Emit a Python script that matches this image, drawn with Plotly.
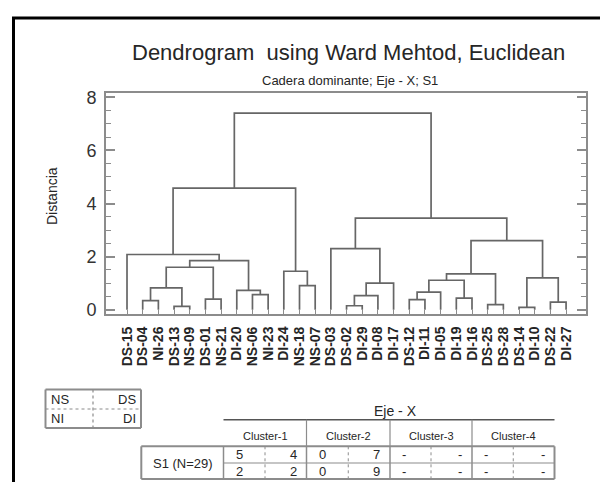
import plotly.graph_objects as go

# ---------------- data ----------------
leaf_labels = ["DS-15", "DS-04", "NI-26", "DS-13", "NS-09", "DS-01", "NS-21", "DI-20",
               "NS-06", "NI-23", "DI-24", "NS-18", "NS-07", "DS-03", "DS-02", "DI-29",
               "DI-08", "DI-17", "DS-12", "DI-11", "DI-05", "DI-19", "DI-16", "DS-25",
               "DS-28", "DS-14", "DI-10", "DS-22", "DI-27"]

merge_names = ["c1", "c2", "c3", "c4", "c5", "c6", "c7", "c8", "c9", "c10", "c11", "c12",
               "c13", "c14", "c15", "c16", "c17", "c18", "c19", "c20", "c21", "c22",
               "c23", "c24", "c25", "c26", "c27", "c28"]
merge_left = ["DS-04", "DS-13", "c1", "DS-01", "c3", "NS-06", "DI-20", "c5", "DS-15",
              "NS-18", "DI-24", "c9", "DS-02", "c13", "c14", "DS-03", "DS-12", "c17",
              "DI-19", "c18", "DS-25", "c20", "DS-14", "DS-22", "c23", "c22", "c16", "c12"]
merge_right = ["NI-26", "NS-09", "c2", "NS-21", "c4", "NI-23", "c6", "c7", "c8",
               "NS-07", "c10", "c11", "DI-29", "DI-08", "DI-17", "c15", "DI-11", "DI-05",
               "DI-16", "c19", "DS-28", "c21", "DI-10", "DI-27", "c24", "c25", "c26", "c27"]
merge_height = [0.34, 0.13, 0.82, 0.40, 1.60, 0.57, 0.73, 1.85, 2.08,
                0.91, 1.45, 4.58, 0.15, 0.53, 1.00, 2.30, 0.38, 0.66,
                0.44, 1.11, 0.19, 1.35, 0.09, 0.29, 1.20, 2.60, 3.45, 7.40]

y_tick_vals = [0, 2, 4, 6, 8]

cluster_names = ["Cluster-1", "Cluster-2", "Cluster-3", "Cluster-4"]
ns_counts = ["5", "0", "-", "-"]
ds_counts = ["4", "7", "-", "-"]
ni_counts = ["2", "0", "-", "-"]
di_counts = ["2", "9", "-", "-"]
row_label = "S1 (N=29)"
table_title = "Eje - X"
legend_cells = [["NS", "DS"], ["NI", "DI"]]

# ---------------- layout constants ----------------
W, H = 608, 482
L, R, T, B = 98, 30, 85, 176
PW, PH = W - L - R, H - T - B

def px(x):
    return (x - L) / PW

def py(y):
    return (H - B - y) / PH

LINE = "#666666"
AX = "#8c8c8c"
TXT = "#262626"
FONT = "Liberation Sans, Arial, sans-serif"

# ---------------- dendrogram lines ----------------
pos = {lab: (i, 0.0) for i, lab in enumerate(leaf_labels)}
xs, ys = [], []
for name, lft, rgt, h in zip(merge_names, merge_left, merge_right, merge_height):
    xl, yl = pos[lft]
    xr, yr = pos[rgt]
    xs += [xl, xl, xr, xr, None]
    ys += [yl, h, h, yr, None]
    pos[name] = ((xl + xr) / 2, h)

fig = go.Figure()
fig.add_trace(go.Scatter(x=xs, y=ys, mode="lines",
                         line=dict(color=LINE, width=1.7),
                         hoverinfo="skip", showlegend=False))

fig.update_layout(
    width=W, height=H,
    margin=dict(l=L, r=R, t=T, b=B, pad=0),
    paper_bgcolor="white", plot_bgcolor="white",
    showlegend=False,
    font=dict(family=FONT, color=TXT),
)

fig.update_xaxes(
    range=[-1.34, 29.27],
    tickmode="array", tickvals=list(range(len(leaf_labels))), ticktext=leaf_labels,
    tickangle=-90, tickfont=dict(size=14, family=FONT, color=TXT, weight="bold"),
    ticks="inside", ticklen=4, tickcolor=AX, tickwidth=1,
    showline=True, linecolor=AX, linewidth=2, mirror=True,
    showgrid=False, zeroline=False, ticklabelstandoff=5,
)
fig.update_yaxes(
    range=[-0.16, 8.16],
    tickmode="array", tickvals=y_tick_vals,
    tickfont=dict(size=18, family=FONT, color="#333333"),
    ticks="inside", ticklen=9, tickcolor=AX, tickwidth=1.5,
    minor=dict(dtick=0.5, ticks="inside", ticklen=5, tickcolor=AX, tickwidth=1.2, showgrid=False),
    showline=True, linecolor=AX, linewidth=2, mirror="ticks",
    showgrid=False, zeroline=False, ticklabelstandoff=4,
)

ann = []
def text(x, y, s, size, xanchor="center", family=FONT, angle=0, color=TXT):
    ann.append(dict(x=px(x), y=py(y), xref="paper", yref="paper", text=s,
                    showarrow=False, xanchor=xanchor, yanchor="middle",
                    textangle=angle, font=dict(size=size, family=family, color=color)))

text(340, 45, "Dendrogram  using Ward Mehtod, Euclidean", 22)
text(342, 72, "Cadera dominante; Eje - X; S1", 13)
text(44, 188, "Distancia", 14, angle=-90)

shapes = []
def line(x0, y0, x1, y1, color=AX, width=2, dash="solid"):
    shapes.append(dict(type="line", xref="paper", yref="paper",
                       x0=px(x0), y0=py(y0), x1=px(x1), y1=py(y1),
                       line=dict(color=color, width=width, dash=dash)))

# outer black frame
line(5.5, 10, 5.5, 490, color="black", width=3)
line(4, 10, 602, 10, color="black", width=3)
line(601, 10, 601, 490, color="black", width=3)

# legend box NS/DS/NI/DI
bx0, bx1, by0, bym, by1, bxm = 37.5, 133, 381.5, 401, 420, 85
line(bx0, by0, bx1, by0); line(bx0, by1, bx1, by1)
line(bx0, by0, bx0, by1); line(bx1, by0, bx1, by1)
line(bx0, bym, bx1, bym, width=1.2, dash="dot")
line(bxm, by0, bxm, by1, width=1.2, dash="dot")
for r, yc in enumerate([391.5, 410.5]):
    text(41, yc, legend_cells[r][0], 13, xanchor="left")
    text(130, yc, legend_cells[r][1], 13, xanchor="right")

# cluster table
col_edges = [215.5, 298.5, 382, 464, 546.5]
text(387.6, 403, table_title, 14)
line(col_edges[0], 411.7, col_edges[-1], 411.7, color="#555555", width=1.5)
for xe in col_edges[1:-1]:
    line(xe, 411.7, xe, 438.3, width=1.2)
for i, nm in enumerate(cluster_names):
    text((col_edges[i] + col_edges[i + 1]) / 2, 428, nm, 11)

tx0, tx1, ty0, tym, ty1 = 133.3, 546.5, 438.3, 455, 471
line(tx0, ty0, tx1, ty0); line(tx0, ty1, tx1, ty1)
line(tx0, ty0, tx0, ty1); line(tx1, ty0, tx1, ty1)
line(col_edges[0], tym, tx1, tym, width=1.2)
for xe in col_edges[:-1]:
    line(xe, ty0, xe, ty1, width=1.5)
for i in range(4):
    xm = (col_edges[i] + col_edges[i + 1]) / 2
    line(xm, ty0, xm, ty1, width=1, dash="dot")
text(175, 455, row_label, 13)
for i in range(4):
    xl = col_edges[i] + 10
    xr = col_edges[i + 1] - 8
    text(xl, 446.5, ns_counts[i], 13, xanchor="left")
    text(xr, 446.5, ds_counts[i], 13, xanchor="right")
    text(xl, 463, ni_counts[i], 13, xanchor="left")
    text(xr, 463, di_counts[i], 13, xanchor="right")

fig.update_layout(annotations=ann, shapes=shapes)
fig.write_html("out.html")
